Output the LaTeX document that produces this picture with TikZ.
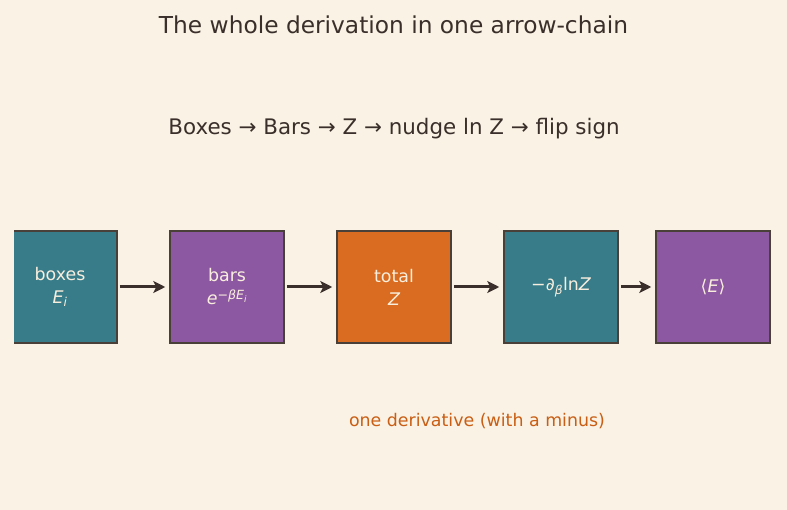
\documentclass[tikz,border=0pt]{standalone}
\usepackage{fontspec}
\setmainfont{DejaVu Sans}
\usetikzlibrary{arrows.meta}
\definecolor{paper}{HTML}{FAF2E4}
\definecolor{ink}{HTML}{3A2F2A}
\definecolor{edge}{HTML}{4A403A}
\definecolor{tealbox}{HTML}{387C8A}
\definecolor{plumbox}{HTML}{8D58A2}
\definecolor{rustbox}{HTML}{D96C20}
\definecolor{note}{HTML}{C95E14}
\definecolor{boxtext}{HTML}{F8EEDD}
\tikzset{
  stage/.style={draw=edge, line width=1.5pt, minimum width=114pt, minimum height=112pt,
    inner sep=0pt, align=center, text=boxtext, font=\fontsize{17.4}{23}\selectfont},
  link/.style={draw=ink, line width=3pt, -{Stealth[length=12pt,width=12pt,inset=3pt]}}
}
\newcommand{\itx}[1]{{\itshape #1}}
\begin{document}
\begin{tikzpicture}[x=1pt,y=-1pt]
    % Background
    \fill[paper] (0,0) rectangle (787,510);
    \useasboundingbox (0,0) rectangle (787,510);
    % Title and summary line
    \node[text=ink, font=\fontsize{23.3}{27}\selectfont] (title) at (393.5,25) {The whole derivation in one arrow-chain};
    \node[text=ink, font=\fontsize{21.4}{25}\selectfont] (summary) at (394,128.5) {Boxes → Bars → Z → nudge ln Z → flip sign};
    % Stages
    \begin{scope}
      \clip (14,0) rectangle (787,510);
      \node[stage, fill=tealbox] (boxes) at (60,287) {boxes\\\itx{E}\textsubscript{\itx{i}}};
    \end{scope}
    \node[stage, fill=plumbox] (bars) at (227,287) {bars\\\itx{e}\raisebox{0.55ex}{\fontsize{12.6}{12}\selectfont−\itx{βE}\textsubscript{\itx{i}}}};
    \node[stage, fill=rustbox] (total) at (394,287) {total\\\itx{Z}};
    \node[stage, fill=tealbox] (dlnz) at (561,287) {−∂\textsubscript{\itx{β}}ln\itx{Z}};
    \node[stage, fill=plumbox] (avg) at (713,287) {⟨\itx{E}⟩};
    % Arrows
    \draw[link] (boxes.east) ++(2,0) -- ([xshift=-4pt]bars.west);
    \draw[link] ([xshift=2pt]bars.east) -- ([xshift=-4pt]total.west);
    \draw[link] ([xshift=2pt]total.east) -- ([xshift=-4pt]dlnz.west);
    \draw[link] ([xshift=2pt]dlnz.east) -- ([xshift=-4pt]avg.west);
    % Note
    \node[text=note, font=\fontsize{17.4}{20}\selectfont] (minus) at (477,421.5) {one derivative (with a minus)};
\end{tikzpicture}
\end{document}
